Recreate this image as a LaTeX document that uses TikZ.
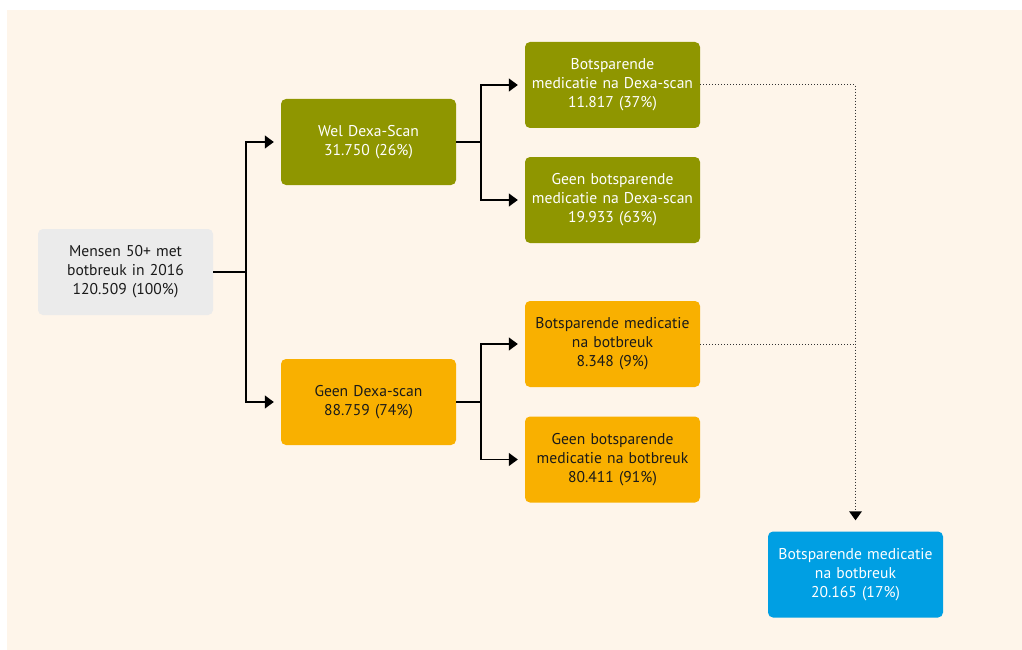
\documentclass[tikz,border=0pt]{standalone}
\usepackage{fontspec}
\setmainfont{PT Sans}
\usetikzlibrary{arrows.meta}
\definecolor{bgcream}{HTML}{FEF5EA}
\definecolor{olive}{HTML}{8F9600}
\definecolor{orangebox}{HTML}{F9B000}
\definecolor{bluebox}{HTML}{009FE3}
\definecolor{graybox}{HTML}{EBEBEB}
\definecolor{darktext}{HTML}{1A1A1A}
\begin{document}
\begin{tikzpicture}[x=1pt,y=-1pt,
  box/.style={rounded corners=5pt, minimum width=175pt, minimum height=86pt,
    align=center, inner sep=0pt, text width=174pt,
    font=\fontsize{15.6}{19}\selectfont},
  grayb/.style={box, fill=graybox, text=darktext},
  oliveb/.style={box, fill=olive, text=white},
  orangeb/.style={box, fill=orangebox, text=darktext},
  blueb/.style={box, fill=bluebox, text=white},
  link/.style={draw=black, line width=1.3pt},
  arr/.style={link, -{Triangle[length=9pt,width=13pt]}, shorten >=7pt},
  dotlink/.style={draw=black!80, line width=1pt, dash pattern=on 1pt off 2pt}
]
\useasboundingbox (0,0) rectangle (1022,650);
\fill[bgcream] (7,10) rectangle (1022,650);

\node[grayb]   (m)    at (125.5,272) {Mensen 50+ met\\botbreuk in 2016\\120.509 (100\%)};
\node[oliveb]  (wel)  at (368.5,142) {Wel Dexa-Scan\\31.750 (26\%)};
\node[orangeb] (geen) at (368.5,402) {Geen Dexa-scan\\88.759 (74\%)};
\node[oliveb]  (b1)   at (612.5,85)  {Botsparende\\medicatie na Dexa-scan\\11.817 (37\%)};
\node[oliveb]  (b2)   at (612.5,200) {Geen botsparende\\medicatie na Dexa-scan\\19.933 (63\%)};
\node[orangeb] (b3)   at (612.5,344) {Botsparende medicatie\\na botbreuk\\8.348 (9\%)};
\node[orangeb] (b4)   at (612.5,459.5) {Geen botsparende\\medicatie na botbreuk\\80.411 (91\%)};
\node[blueb]   (tot)  at (855.5,574.5) {Botsparende medicatie\\na botbreuk\\20.165 (17\%)};

\coordinate (j1) at (246,272);
\coordinate (j2) at (481,142);
\coordinate (j3) at (481,402);

\draw[link] (m.east) -- (j1);
\draw[arr] (j1) |- (wel.west);
\draw[arr] (j1) |- (geen.west);

\draw[link] (wel.east) -- (j2);
\draw[arr] (j2) |- (b1.west);
\draw[arr] (j2) |- (b2.west);

\draw[link] (geen.east) -- (j3);
\draw[arr] (j3) |- (b3.west);
\draw[arr] (j3) |- (b4.west);

\draw[dotlink, shorten >=19pt] (b1.east) -| (tot.north);
\draw[dotlink] (b3.east) -- (b3.east -| tot.north);
\fill[black] ([yshift=11pt]tot.north) -- ++(-6.5,-9) -- ++(13,0) -- cycle;
\end{tikzpicture}
\end{document}
